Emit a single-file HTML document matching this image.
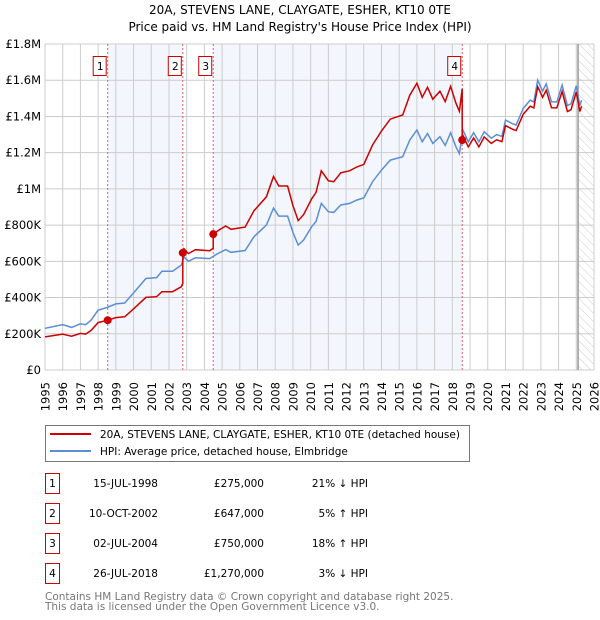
<!DOCTYPE html>
<html><head><meta charset="utf-8"><style>
body{margin:0;background:#fff;font-family:"DejaVu Sans","Liberation Sans",sans-serif}
svg{display:block}
text{font-family:"DejaVu Sans","Liberation Sans",sans-serif}
</style></head><body>
<svg id="c" width="600" height="620" viewBox="0 0 600 620">
<defs><pattern id="hatch" width="6" height="6" patternUnits="userSpaceOnUse" patternTransform="rotate(-45)"><line x1="0" y1="0" x2="0" y2="6" stroke="#ccc" stroke-width="1"/></pattern></defs>
<text x="300" y="14" text-anchor="middle" font-size="12">20A, STEVENS LANE, CLAYGATE, ESHER, KT10 0TE</text>
<text x="300" y="31" text-anchor="middle" font-size="12">Price paid vs. HM Land Registry's House Price Index (HPI)</text>
<g id="plot"></g>
<g>
<rect x="45.5" y="425.5" width="424" height="36" fill="#fff" stroke="#777"/>
<line x1="50" y1="434" x2="91" y2="434" stroke="#cc0000" stroke-width="2"/>
<text x="100" y="438" font-size="10.5">20A, STEVENS LANE, CLAYGATE, ESHER, KT10 0TE (detached house)</text>
<line x1="50" y1="451" x2="91" y2="451" stroke="#5b8ed6" stroke-width="2"/>
<text x="100" y="455" font-size="10.5">HPI: Average price, detached house, Elmbridge</text>
</g>
<g id="table" font-size="10.5"></g>
<text x="45" y="600" font-size="10.5" fill="#777">Contains HM Land Registry data © Crown copyright and database right 2025.</text>
<text x="45" y="610" font-size="10.5" fill="#777">This data is licensed under the Open Government Licence v3.0.</text>
</svg>
<script>
const hpiYears=[1995,1995.5,1996,1996.5,1997,1997.3,1997.6,1998,1998.5,1999,1999.5,2000,2000.7,2001.3,2001.6,2002.2,2002.7,2002.85,2003.1,2003.5,2004.3,2004.7,2005.2,2005.5,2006.3,2006.8,2007.5,2007.9,2008.2,2008.7,2009.0,2009.3,2009.6,2010.06,2010.3,2010.6,2011,2011.3,2011.7,2012.2,2012.6,2013,2013.5,2014,2014.5,2015.2,2015.6,2016,2016.3,2016.6,2016.9,2017.3,2017.6,2017.9,2018.2,2018.4,2018.6,2018.9,2019.2,2019.5,2019.8,2020.2,2020.5,2020.8,2021.0,2021.4,2021.6,2022.0,2022.4,2022.6,2022.82,2023.1,2023.3,2023.6,2023.9,2024.2,2024.5,2024.7,2025.0,2025.2,2025.3];
const hpiValues=[230,240,250,235,255,250,275,330,345,365,370,425,505,510,545,545,580,625,600,620,615,640,665,650,660,736,800,894,850,850,760,690,718,791,820,920,874,870,911,920,938,950,1040,1104,1159,1178,1270,1325,1260,1306,1251,1288,1240,1310,1233,1195,1325,1260,1310,1260,1316,1280,1300,1290,1380,1360,1352,1444,1490,1480,1600,1540,1580,1481,1480,1573,1460,1470,1570,1460,1490];
const saleYears=[1998.54,2002.78,2004.5,2018.56];
const salePrices=[275,647,750,1270];
const saleDates=["15-JUL-1998","10-OCT-2002","02-JUL-2004","26-JUL-2018"];
const salePriceLabels=["£275,000","£647,000","£750,000","£1,270,000"];
const saleHpiLabels=["21% ↓ HPI","5% ↑ HPI","18% ↑ HPI","3% ↓ HPI"];
const yTicks=[0,200,400,600,800,1000,1200,1400,1600,1800];
const yTickLabels=["£0","£200K","£400K","£600K","£800K","£1M","£1.2M","£1.4M","£1.6M","£1.8M"];
const xTicks=[1995,1996,1997,1998,1999,2000,2001,2002,2003,2004,2005,2006,2007,2008,2009,2010,2011,2012,2013,2014,2015,2016,2017,2018,2019,2020,2021,2022,2023,2024,2025,2026];

const L=45,R=594,T=44,B=370,X0=1995,X1=2026,YMAX=1800,DATA_END=2025.1;
const xs=y=>L+(y-X0)/(X1-X0)*(R-L);
const ys=v=>B-v/YMAX*(B-T);
const NS="http://www.w3.org/2000/svg";
const plot=document.getElementById('plot');
function mk(tag,attrs,parent){const e=document.createElementNS(NS,tag);for(const k in attrs)e.setAttribute(k,attrs[k]);(parent||plot).appendChild(e);return e;}
function hpiAt(t){for(let i=1;i<hpiYears.length;i++){if(t<=hpiYears[i]){const a=hpiYears[i-1],b=hpiYears[i];return hpiValues[i-1]+(hpiValues[i]-hpiValues[i-1])*(t-a)/(b-a);}}return hpiValues[hpiValues.length-1];}

const bands=[[saleYears[0],saleYears[1]],[saleYears[2],saleYears[3]]];
bands.forEach((b,i)=>{const r=mk('rect',{x:xs(b[0]),y:T,width:xs(b[1])-xs(b[0]),height:B-T,fill:'#eef3fc',opacity:0.7});

});
const h=mk('rect',{x:xs(DATA_END),y:T,width:R-xs(DATA_END),height:B-T,fill:'url(#hatch)'});


xTicks.forEach(t=>{const g=mk('line',{x1:xs(t),x2:xs(t),y1:T,y2:B,stroke:'#cccccc','stroke-width':1});


const tx=mk('text',{x:0,y:0,'font-size':11.5,'text-anchor':'end',transform:`translate(${xs(t)+4.5},${B+12}) rotate(-90)`});tx.textContent=t;

});
yTicks.forEach((v,i)=>{const g=mk('line',{x1:L,x2:R,y1:ys(v),y2:ys(v),stroke:'#cccccc','stroke-width':1});


const tx=mk('text',{x:L-4,y:ys(v)+4,'font-size':11.5,'text-anchor':'end'});tx.textContent=yTickLabels[i];

});
const ve=mk('line',{x1:xs(DATA_END),x2:xs(DATA_END),y1:T,y2:B,stroke:'#999','stroke-width':1.5});


saleYears.forEach((s,i)=>{const l=mk('line',{x1:xs(s),x2:xs(s),y1:T,y2:B,stroke:'#e06060','stroke-width':1,'stroke-dasharray':'2,2'});


const bx=mk('rect',{x:xs(s)-14-0.5,y:56.5,width:13,height:19,fill:'#fff',stroke:'#cc0000'});


const t=mk('text',{x:xs(s)-7.5,y:70,'font-size':10.5,'text-anchor':'middle'});t.textContent=i+1;

});
let d='';hpiYears.forEach((y,i)=>{d+=(i?'L':'M')+xs(y).toFixed(1)+','+ys(hpiValues[i]).toFixed(1);});
const hl=mk('path',{d:d,fill:'none',stroke:'#5b8ed6','stroke-width':1.5});


const ratios=saleYears.map((s,i)=>salePrices[i]/hpiAt(s));
let pts=[];
const allT=[...hpiYears,...saleYears].sort((a,b)=>a-b);
allT.forEach(t=>{let k=0;for(let i=0;i<saleYears.length;i++)if(t>=saleYears[i])k=i;
if(t===saleYears[k]&&k>0)pts.push([t,hpiAt(t)*ratios[k-1]]);
pts.push([t,hpiAt(t)*ratios[k]]);});
d='';pts.forEach((p,i)=>{d+=(i?'L':'M')+xs(p[0]).toFixed(1)+','+ys(p[1]).toFixed(1);});
const pl=mk('path',{d:d,fill:'none',stroke:'#cc0000','stroke-width':1.5});


saleYears.forEach((s,i)=>{const c=mk('circle',{cx:xs(s),cy:ys(salePrices[i]),r:4,fill:'#cc0000'});

});
const tb=document.getElementById('table');
const rowY=[483,513,543,573];
saleDates.forEach((dt,i)=>{const y=rowY[i];
const bx=mk('rect',{x:45.5,y:y-9.5,width:14,height:20,fill:'#fff',stroke:'#cc0000'},tb);


const cells=[[52.5,'middle',String(i+1)],[158,'end',dt],[264,'end',salePriceLabels[i]],[368,'end',saleHpiLabels[i]]];
cells.forEach((c,j)=>{const t=mk('text',{x:c[0],y:y+4,'text-anchor':c[1]},tb);t.textContent=c[2];

});});
</script>
</body></html>
